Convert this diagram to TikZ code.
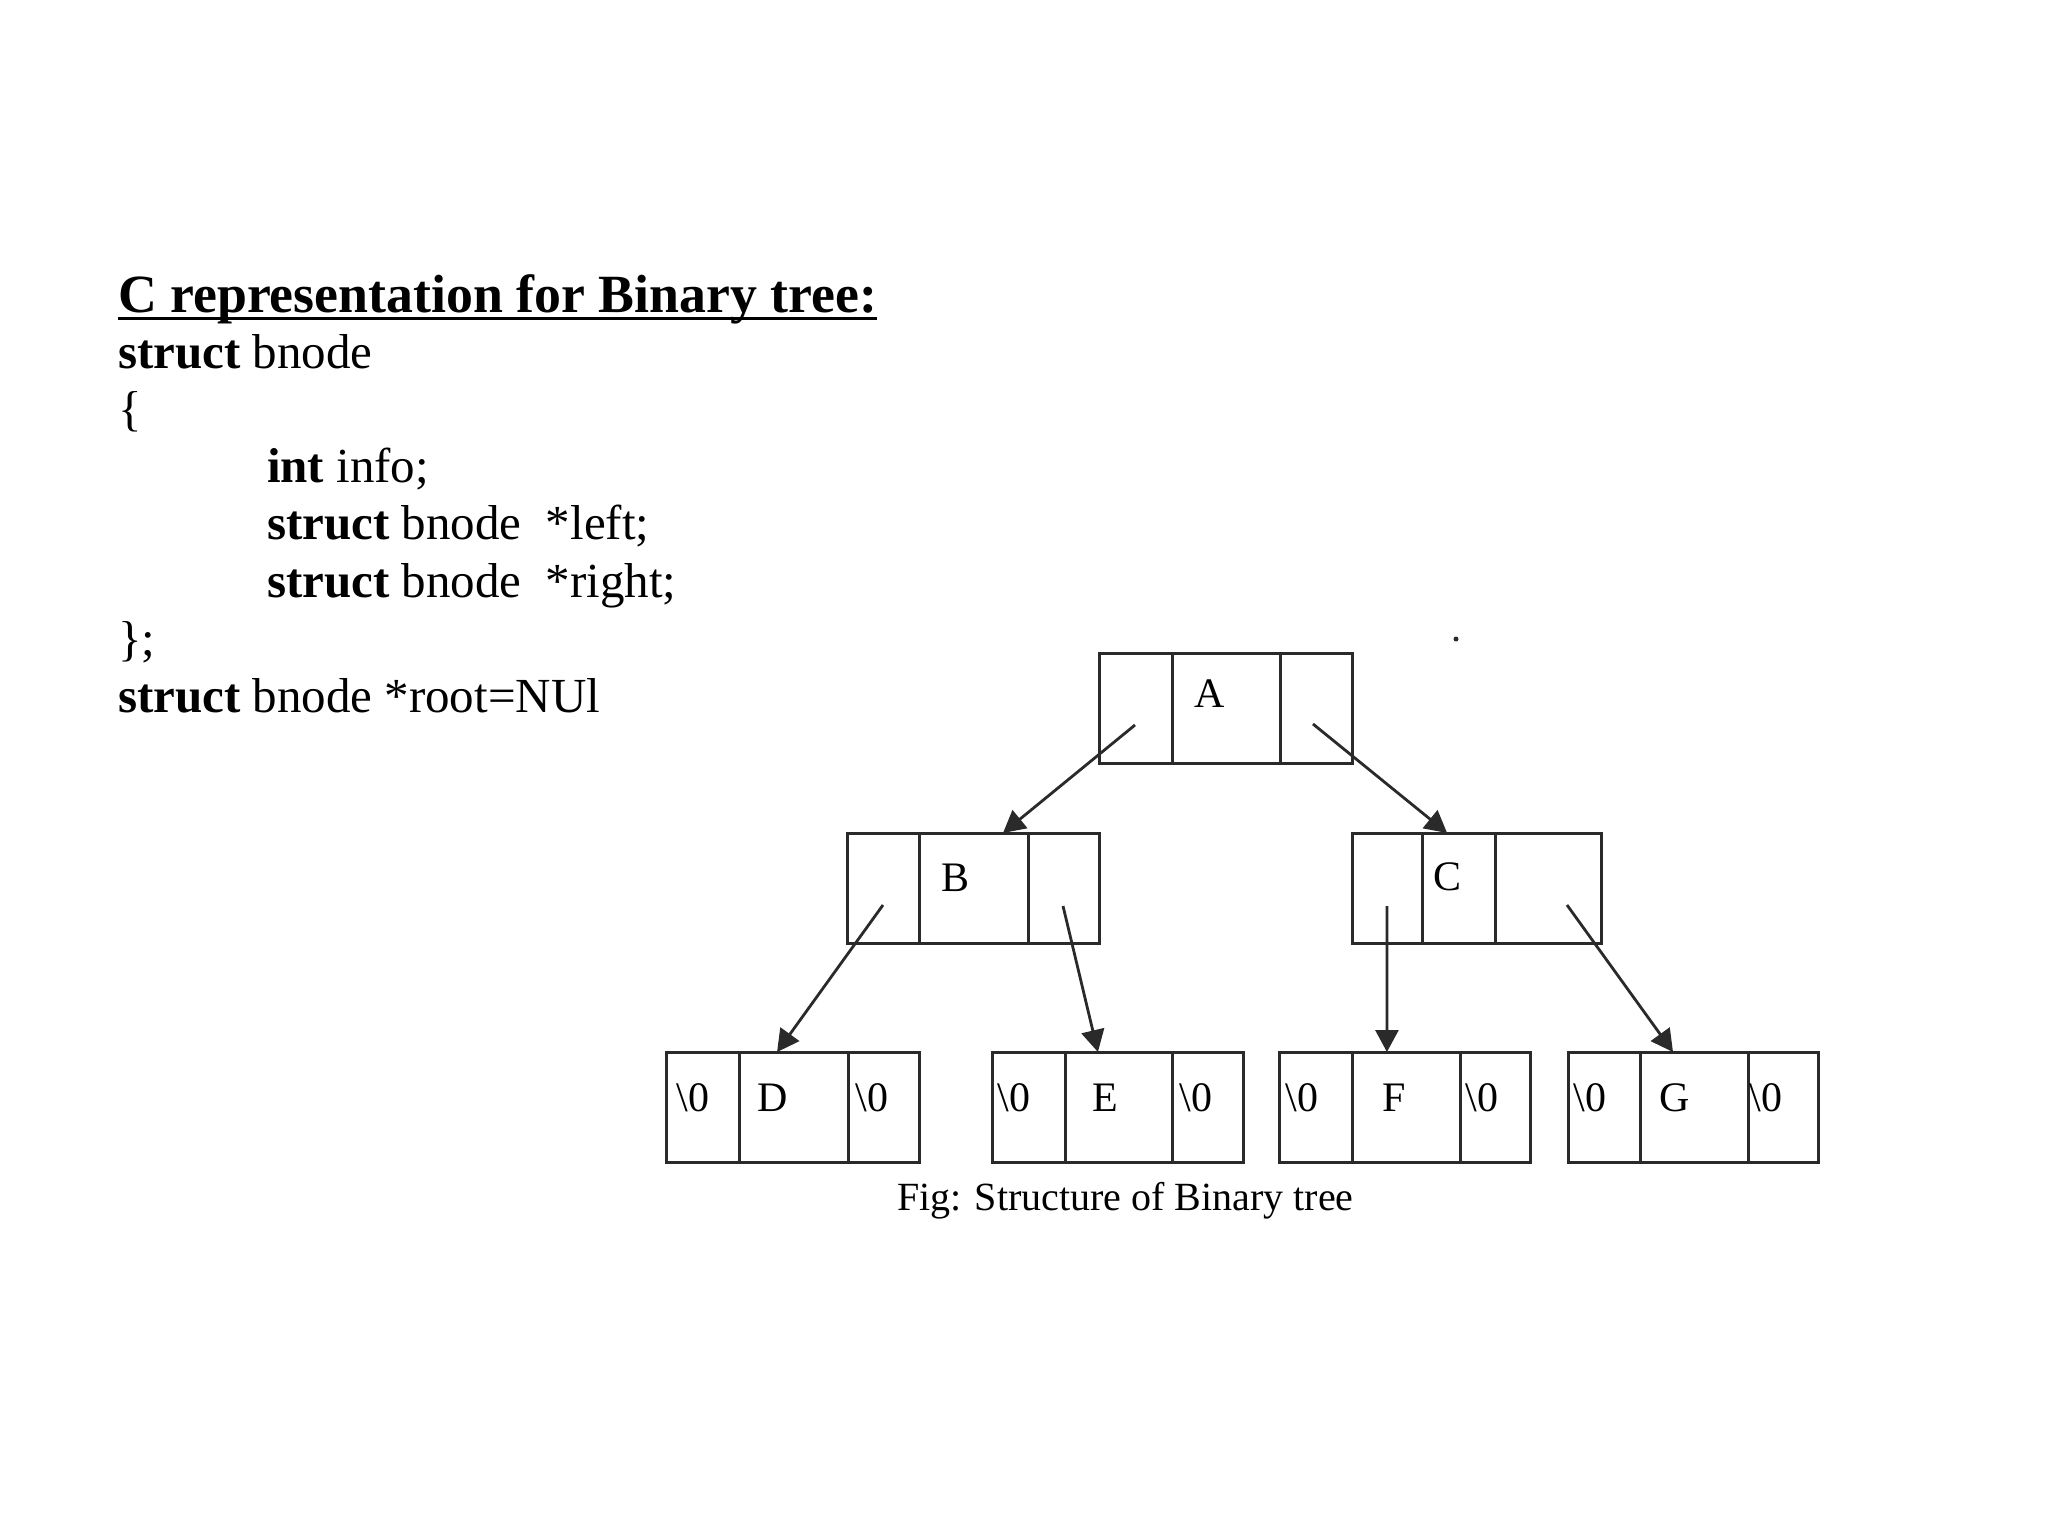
\documentclass[tikz,border=0pt]{standalone}
\usepackage{fontspec}
\setmainfont{Liberation Serif}
\usetikzlibrary{arrows.meta,calc}
\definecolor{linegray}{HTML}{2A2A2A}
\begin{document}
\begin{tikzpicture}[x=1pt,y=-1pt,
  code/.style={anchor=base west,inner sep=0pt,outer sep=0pt,font=\fontsize{49}{57}\selectfont},
  titletext/.style={anchor=base west,inner sep=0pt,outer sep=0pt,font=\fontsize{53.8}{60}\selectfont\bfseries},
  figcap/.style={anchor=base west,inner sep=0pt,outer sep=0pt,font=\fontsize{40}{48}\selectfont},
  box/.style={draw=linegray,line width=3pt,rectangle,anchor=north west,inner sep=0pt,outer sep=0pt,minimum height=110pt},
  divider/.style={draw=linegray,line width=3pt},
  lbl/.style={anchor=base,inner sep=0pt,font=\fontsize{42}{48}\selectfont},
  ptr/.style={draw=linegray,line width=2.8pt,-{Triangle[length=22pt,width=23pt]}},
]
\path[use as bounding box,fill=white] (0,0) rectangle (2048,1536);

% ---- code text ----
\node[titletext] (title) at (118,312) {C representation for Binary tree:};
\draw[line width=3pt] ($(title.base west)+(0,6)$) -- ($(title.base east)+(0,6)$);
\node[code] (l1) at (118,368) {\textbf{struct} bnode};
\node[code] (l2) at (118,425) {\{};
\node[code] (l3) at (267,482) {\textbf{int} info;};
\node[code] (l4) at (267,539) {\textbf{struct} bnode\ \ *left;};
\node[code] (l5) at (267,597) {\textbf{struct} bnode\ \ *right;};
\node[code] (l6) at (118,655) {\};};
\node[code] (l7) at (118,712) {\textbf{struct} bnode *root=NUl};

% ---- boxes ----
\node[box,minimum width=253pt] (A) at (1099,653) {};
\node[box,minimum width=252pt] (B) at (847,833) {};
\node[box,minimum width=249pt] (C) at (1352,833) {};
\node[box,minimum width=253pt] (D) at (666,1052) {};
\node[box,minimum width=251pt] (E) at (992,1052) {};
\node[box,minimum width=251pt] (F) at (1279,1052) {};
\node[box,minimum width=250pt] (G) at (1568,1052) {};

\foreach \n/\a/\b in {A/73/181, B/72/181, C/70/143, D/73/182, E/73/180, F/73/181, G/72/180}{
  \draw[divider] ($(\n.north west)+(\a,0)$) -- ($(\n.south west)+(\a,0)$);
  \draw[divider] ($(\n.north west)+(\b,0)$) -- ($(\n.south west)+(\b,0)$);
}

% ---- labels ----
\node[lbl] (tA) at (1210,707) {A};
\node[lbl] (tB) at (955,891) {B};
\node[lbl] (tC) at (1447,890) {C};
\node[lbl] (tD) at (773,1111) {D};
\node[lbl] (tE) at (1105,1111) {E};
\node[lbl] (tF) at (1394,1111) {F};
\node[lbl] (tG) at (1675,1111) {G};
\node[lbl] (D0l) at (693,1111) {\textbackslash 0};
\node[lbl] (D0r) at (872,1111) {\textbackslash 0};
\node[lbl] (E0l) at (1014,1111) {\textbackslash 0};
\node[lbl] (E0r) at (1196,1111) {\textbackslash 0};
\node[lbl] (F0l) at (1302,1111) {\textbackslash 0};
\node[lbl] (F0r) at (1482,1111) {\textbackslash 0};
\node[lbl] (G0l) at (1590,1111) {\textbackslash 0};
\node[lbl] (G0r) at (1766,1111) {\textbackslash 0};

% ---- pointers ----
\coordinate (A-l) at ($(A.north west)+(36,72)$);
\coordinate (A-r) at ($(A.north west)+(214,71)$);
\coordinate (B-l) at ($(B.north west)+(36,72)$);
\coordinate (B-r) at ($(B.north west)+(216,73)$);
\coordinate (C-l) at ($(C.north west)+(35,73)$);
\coordinate (C-r) at ($(C.north west)+(215,72)$);

\draw[ptr] (A-l) -- ($(B.north west)!0.619!(B.north east)$);
\draw[ptr] (A-r) -- ($(C.north west)!0.382!(C.north east)$);
\draw[ptr] (B-l) -- ($(D.north west)!0.439!(D.north east)$);
\draw[ptr] (B-r) -- ($(E.north west)!0.422!(E.north east)$);
\draw[ptr] (C-l) -- ($(F.north west)!0.43!(F.north east)$);
\draw[ptr] (C-r) -- ($(G.north west)!0.42!(G.north east)$);

% ---- caption ----
\node[figcap] (cap) at (897,1210) {Fig: Structure of Binary tree};

% stray dot
\fill[linegray] (1456,639) circle[radius=2.5pt];
\end{tikzpicture}
\end{document}
